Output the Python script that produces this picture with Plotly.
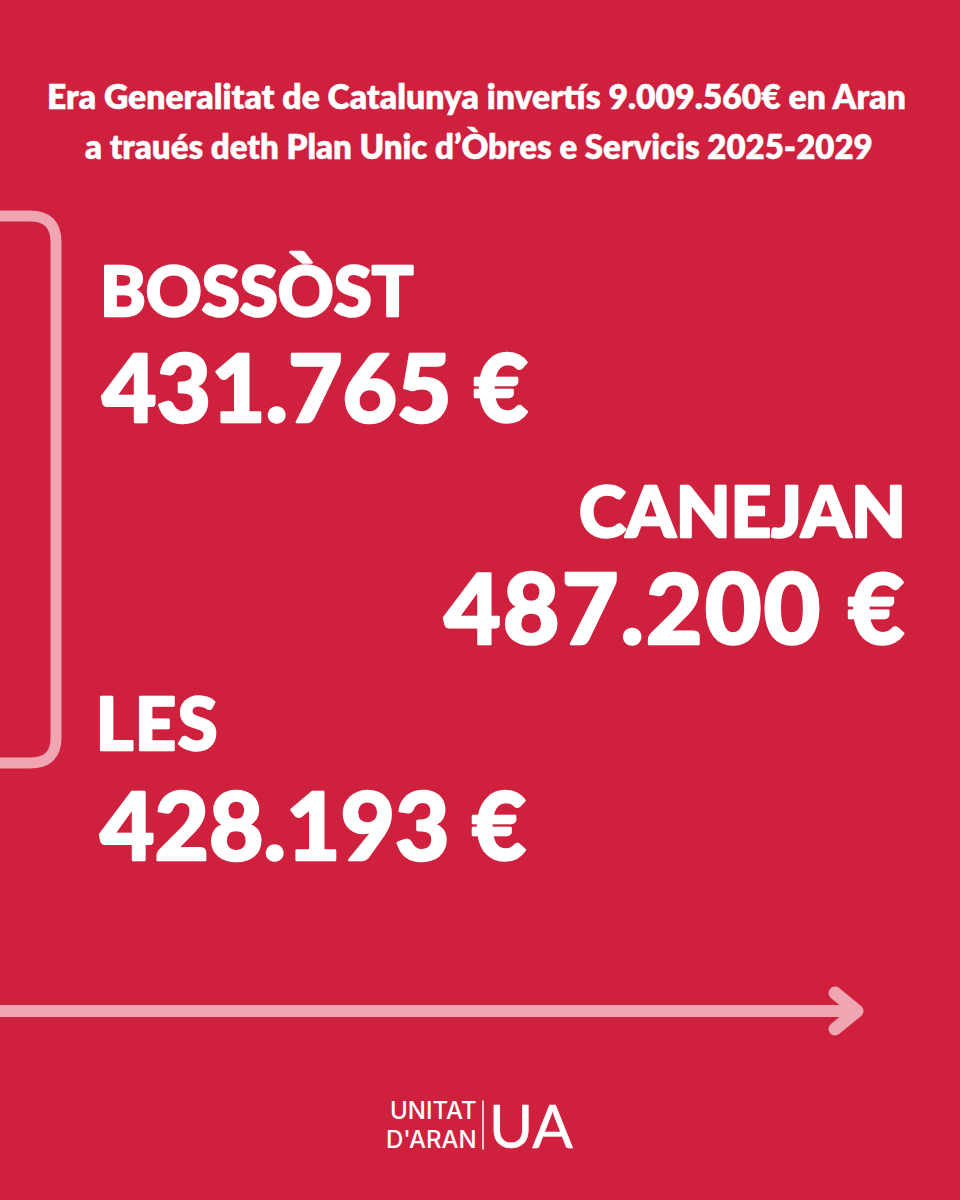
"""Era Generalitat de Catalunya - Plan Unic d'Òbres e Servicis, card for Aran."""

import plotly.graph_objects as go

# ── Data ───────────────────────────────────────────────────────────────────────
TITLE_LINES = [
    "Era Generalitat de Catalunya invertís 9.009.560€ en Aran",
    "a traués deth Plan Unic d’Òbres e Servicis 2025-2029",
]
TOWNS = ["BOSSÒST", "CANEJAN", "LES"]
AMOUNTS = ["431.765 €", "487.200 €", "428.193 €"]
LOGO_WORDS = ["UNITAT", "D'ARAN"]
LOGO_MARK = "UA"

# ── Style ──────────────────────────────────────────────────────────────────────
BG = "#CF203E"
PALE = "#F0A5B3"
WHITE = "#FFFFFF"
FONT = "Lato"

fig = go.Figure()


def label(text, x, y, size, anchor="left", weight=900, family=FONT):
    fig.add_annotation(
        text=text, x=x, y=y, xref="x", yref="y", showarrow=False,
        xanchor=anchor, yanchor="middle",
        font=dict(family=family, size=size, color=WHITE, weight=weight),
    )


# title
label(TITLE_LINES[0], 476, 96, 33.7, anchor="center", weight=800)
label(TITLE_LINES[1], 479, 146, 33, anchor="center", weight=800)

# town blocks: left, right, left
label(TOWNS[0], 98, 289, 69)
label(AMOUNTS[0], 100, 385, 94)
label(TOWNS[1], 908, 509, 71, anchor="right")
label(AMOUNTS[1], 899, 606, 98, anchor="right")
label(TOWNS[2], 96, 722, 72)
label(AMOUNTS[2], 98, 823, 94)

# logo
label(LOGO_WORDS[0], 479, 1110, 24, anchor="right", weight=500, family="Inter")
label(LOGO_WORDS[1], 479, 1139, 24, anchor="right", weight=500, family="Inter")
label(LOGO_MARK, 487, 1125, 60, weight=400, family="Lato")

# bracket, arrow and logo divider
pale_line = dict(color=PALE, width=11)
fig.add_shape(
    type="path",
    path="M -10,216 L 30,216 Q 56,216 56,242 L 56,738 Q 56,763 30,763 L -10,763",
    line=pale_line,
)
fig.add_shape(type="path", path="M -10,1011 L 857,1011", line=dict(color=PALE, width=12))
fig.add_shape(
    type="path", path="M 835,993 L 857,1011 L 835,1029", line=dict(color=PALE, width=13)
)
fig.add_shape(
    type="line", x0=483, x1=483, y0=1101, y1=1149, line=dict(color=WHITE, width=1.5)
)

fig.update_xaxes(range=[0, 960], visible=False, fixedrange=True)
fig.update_yaxes(range=[1200, 0], visible=False, fixedrange=True)
fig.update_layout(
    width=960, height=1200,
    margin=dict(l=0, r=0, t=0, b=0),
    paper_bgcolor=BG, plot_bgcolor=BG,
    showlegend=False,
)

# page margin off, rounded stroke ends on the shapes, heavier lettering
POST = """
document.body.style.margin = '0';
document.body.style.background = '#CF203E';
document.querySelectorAll('.shapelayer path').forEach(function (p) {
  p.style.strokeLinecap = 'round';
  p.style.strokeLinejoin = 'round';
});
document.querySelectorAll('.annotation-text').forEach(function (t) {
  var size = parseFloat(t.style.fontSize);
  var w = 0;
  if (t.textContent === 'UA') { w = 0.6; }
  else if (size >= 60) { w = 2.5; }
  else if (size >= 30) { w = 0.4; }
  if (w > 0) {
    t.style.stroke = '#FFFFFF';
    t.style.strokeWidth = w + 'px';
    t.style.strokeLinejoin = 'round';
  }
  if (t.textContent === '487.200 €') { t.style.letterSpacing = '2px'; }
  if (t.textContent === 'LES') { t.style.letterSpacing = '1.5px'; }
});
"""
fig.write_html("out.html", post_script=POST, config={"displayModeBar": False})
